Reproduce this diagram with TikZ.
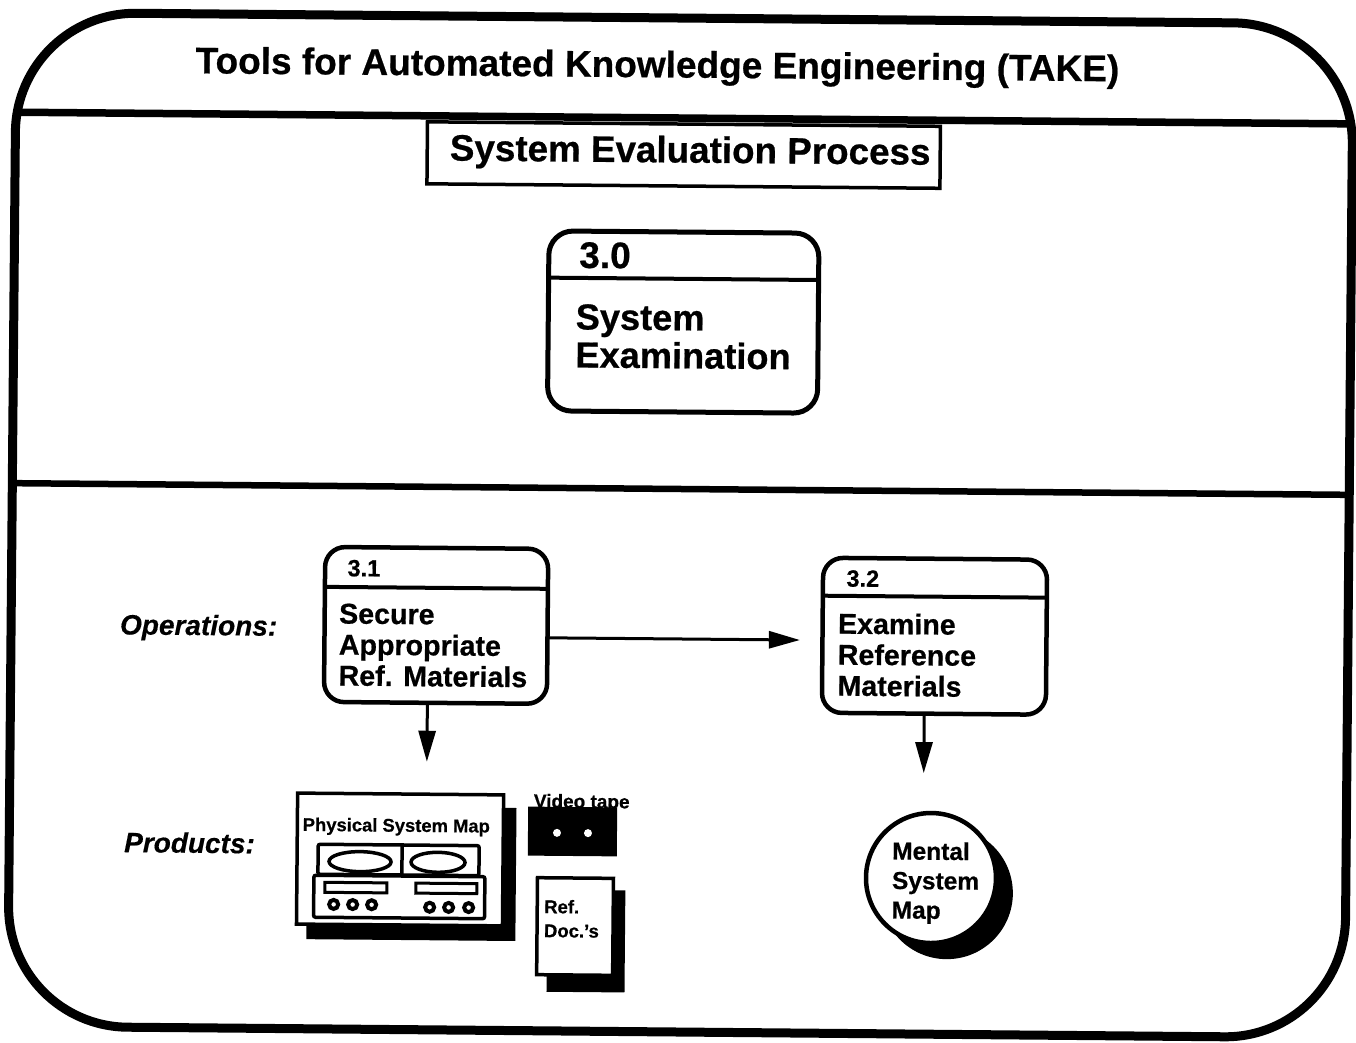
\documentclass[tikz,border=0pt]{standalone}
\usepackage{fontspec}
\setmainfont{Liberation Sans}[BoldFeatures={FakeBold=0.6},BoldItalicFeatures={FakeBold=0.4}]
\usetikzlibrary{arrows.meta,calc}
\newcommand{\fsz}[2]{\fontsize{#1}{#2}\selectfont\bfseries}
\tikzset{
 label/.style={inner sep=0pt,outer sep=0pt,align=left,text=black},
 ttl/.style={label,font=\fsz{36.8}{40}},
 big/.style={label,font=\fsz{36.2}{38}},
 mid/.style={label,font=\fsz{28.6}{31}},
 num/.style={label,font=\fsz{23.5}{26}},
 side/.style={label,font=\fontsize{28}{32}\selectfont\bfseries\itshape},
 tiny/.style={label,font=\fsz{18.4}{31}},
 procbox/.style={draw,line width=4.5pt,rounded corners=20pt,inner sep=0pt,outer sep=0pt,fill=white},
 flow/.style={draw,line width=3pt,-{Triangle[length=31pt,width=17pt]}},
 inst/.style={draw,line width=3.5pt,rounded corners=2pt,fill=white},
 shadow/.style={fill=black,draw=none},
}
\begin{document}
\begin{tikzpicture}[x=1pt,y=-1pt]
\useasboundingbox[fill=white] (0,0) rectangle (1356,1042);
\begin{scope}[rotate around={-0.5:(678,521)},transform shape]
% outer frame
\node[draw,line width=9pt,rounded corners=120pt,inner sep=0pt,outer sep=0pt,minimum width=1337pt,minimum height=1014pt] (frame) at (680.5,525) {};
\coordinate (r1a) at (12,118); \coordinate (r1b) at (1349,118);
\coordinate (r2a) at (12,489); \coordinate (r2b) at (1349,489);
\draw[line width=7.5pt] (r1a) -- (r1b);
\draw[line width=6.5pt] (r2a) -- (r2b);
\node[ttl,font=\fsz{37}{40}] (title) at (653.5,68) {Tools for Automated Knowledge Engineering (TAKE)};
\node[draw,line width=3.5pt,inner sep=0pt,outer sep=0pt,minimum width=513pt,minimum height=62pt,fill=white] (sub) at (680.5,155) {};
\node[ttl] (subt) at (687,153) {System Evaluation Process};
% 3.0
\node[procbox,line width=5pt,rounded corners=24pt,minimum width=270pt,minimum height=180pt] (b30) at (681.5,322) {};
\draw[line width=4pt] ($(b30.north west)!.26!(b30.south west)$) -- ($(b30.north east)!.26!(b30.south east)$);
\node[label,anchor=west,font=\fsz{37}{40}] (t30) at (577,256) {3.0};
\node[big,anchor=north west] (x30) at (574,305) {System\\Examination};
% 3.1
\node[procbox,minimum width=223pt,minimum height=155pt] (b31) at (437,627.5) {};
\draw[line width=4pt] ($(b31.north west)!.258!(b31.south west)$) -- ($(b31.north east)!.258!(b31.south east)$);
\node[num,anchor=west] (t31) at (348,571) {3.1};
\node[mid,anchor=north west] (x31) at (340,606.5) {Secure\\Appropriate\\Ref. Materials};
% 3.2
\node[procbox,minimum width=224pt,minimum height=155pt] (b32) at (935.5,634) {};
\draw[line width=4pt] ($(b32.north west)!.245!(b32.south west)$) -- ($(b32.north east)!.245!(b32.south east)$);
\node[num,anchor=west] (t32) at (847,577) {3.2};
\node[mid,anchor=north west] (x32) at (839,611.5) {Examine\\Reference\\Materials};
% connectors
\coordinate (a1) at (801,639);
\coordinate (a2) at (429,764);
\coordinate (a3) at (926,771);
\draw[flow] ($(b31.east)+(0,11.5)$) -- (a1);
\draw[flow] ($(b31.south)+(-8,0)$) -- (a2);
\draw[flow] ($(b32.south)+(-9.5,0)$) -- (a3);
% side labels
\node[side,anchor=west] (ops) at (121,632) {Operations:};
\node[side,anchor=west] (prd) at (127,847) {Products:};
% physical system map
\begin{scope}[shift={(3,2.4)}]
\fill[shadow] (307,807) rectangle (516,940);
\node[draw,line width=3.5pt,fill=white,inner sep=0pt,outer sep=0pt,minimum width=206pt,minimum height=131pt] (map) at (400,859.5) {};
\node[tiny,anchor=center] (mapt) at (396,827) {Physical System Map};
\node[inst,minimum width=161pt,minimum height=30pt,inner sep=0pt] (reels) at (398.5,860) {};
\draw[line width=3.5pt] (reels.north) ++(3.5,0) coordinate (d1) -- (d1 |- reels.south);
\draw[line width=3.5pt] (360,862) ellipse (31pt and 10pt);
\draw[line width=3.5pt] (438,862) ellipse (27pt and 10pt);
\node[inst,minimum width=171pt,minimum height=42pt,inner sep=0pt] (base) at (399.5,897) {};
\draw[line width=3pt] (325,883) rectangle (387,893);
\draw[line width=3pt] (416,883) rectangle (477,893);
\foreach \p/\q in {334/905,353/905,372/905,430/907,449/907,469/907}
  \draw[line width=4pt] (\p,\q) circle (4.5pt);
\end{scope}
% video tape
\begin{scope}[shift={(2.7,0.9)}]
\fill[shadow] (528,807) rectangle (617,856);
\fill[white] (557,833) circle (4pt) (588,833) circle (4pt);
\node[label,font=\fsz{19}{20},anchor=center] (vid) at (581.5,803) {Video tape};
\end{scope}
% ref docs
\begin{scope}[shift={(3.6,0.9)}]
\fill[shadow] (547,890) rectangle (625,992);
\node[draw,line width=3.5pt,fill=white,inner sep=0pt,outer sep=0pt,minimum width=76pt,minimum height=97pt] (doc) at (575,926.5) {};
\node[tiny,anchor=north west,font=\fsz{18.5}{24}] (doct) at (544,900) {Ref.\\Doc.'s};
\end{scope}
% mental map
\begin{scope}[shift={(3.1,-2.2)}]
\fill[shadow] (947,893) circle (66pt);
\node[draw,line width=4.5pt,fill=white,circle,minimum size=130pt,inner sep=0pt,outer sep=0pt] (mm) at (931,878) {};
\node[label,anchor=north west,font=\fsz{24.5}{29.5}] (mmt) at (892,842) {Mental\\System\\Map};
\end{scope}
\end{scope}
\end{tikzpicture}
\end{document}
